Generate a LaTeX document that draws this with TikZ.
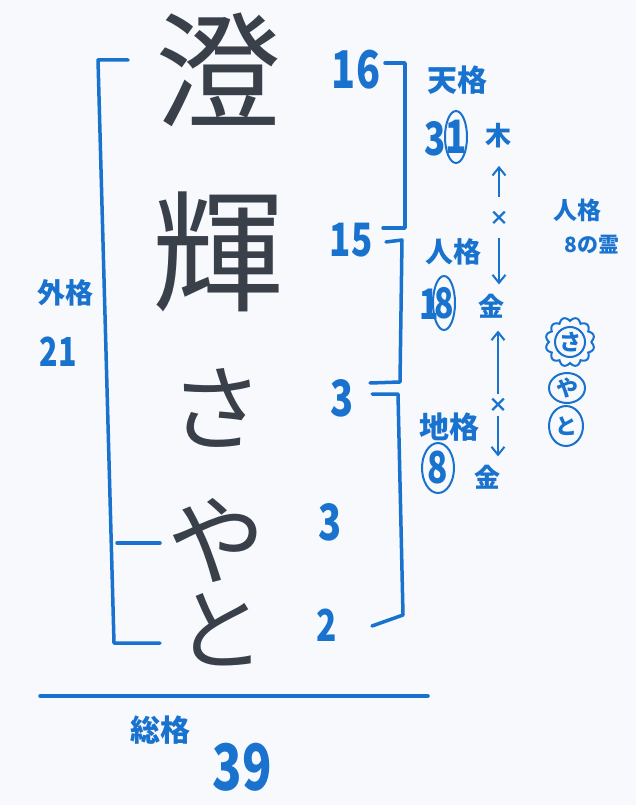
\documentclass[tikz,border=0pt]{standalone}
\usepackage{fontspec}
\usetikzlibrary{arrows.meta}
\newfontfamily\jp{Noto Sans CJK JP}
\definecolor{pen}{RGB}{24,114,206}
\definecolor{ink}{RGB}{58,64,74}
\definecolor{paper}{RGB}{247,249,252}
\newcommand\slim[1]{\scalebox{0.76}[1]{#1}}
\tikzset{
  big/.style={text=ink,font=\jp\fontsize{#1}{#1}\selectfont},
  num/.style={text=pen,font=\jp\bfseries\fontsize{#1}{#1}\selectfont},
  rule/.style={pen,line width=3.5pt,line cap=round,line join=round},
  loop/.style={pen,line width=2pt},
  arr/.style={pen,line width=2pt,-{Straight Barb[length=8pt,width=13pt]}},
}

\begin{document}
\begin{tikzpicture}[x=1pt,y=-1pt]
  \fill[paper] (0,0) rectangle (636,805);
  \useasboundingbox (0,0) rectangle (636,805);
  % name
  \node[big=126] (sumi) at (218,70) {澄};
  \node[big=132] (ki) at (218,252) {輝};
  \node[big=94] (sa) at (216,408) {さ};
  \node[big=98] (ya) at (216,540) {や};
  \node[big=90] (to) at (220,630) {と};
  % strokes
  \node[num=52] (n16) at (356,70) {\slim{16}};
  \node[num=46] (n15) at (351,240) {\slim{15}};
  \node[num=50] (n3a) at (342,398) {\slim{3}};
  \node[num=50] (n3b) at (330,522) {\slim{3}};
  \node[num=44] (n2) at (327,625) {\slim{2}};
  % brackets
  \draw[rule] (128,60) -- (98,60) -- (114,643) -- (160,643);
  \draw[rule] (117,543) -- (160,543);
  \draw[rule] (385,63) -- (405,63) -- (405,228) -- (383,228);
  \draw[rule] (386,242) -- (402,240) -- (400,382) -- (370,383);
  \draw[rule] (372,394) -- (398,394) -- (403,615) -- (372,626);
  \draw[rule] (40,696) -- (428,696);
  % kaku
  \node[num=30] (tenkaku) at (457,80) {天格};
  \node[num=46] (tenval) at (435,139) {\slim{3}};
  \node[num=46] (tenone) at (456,137) {\slim{1}};
  \draw[loop] (tenone) ellipse[x radius=11pt,y radius=26pt];
  \node[num=28] (jinkaku) at (453,252) {人格};
  \node[num=42] (jinone) at (429,304) {\slim{1}};
  \node[num=42] (jinval) at (444,303) {\slim{8}};
  \draw[loop] (jinval) ellipse[x radius=11pt,y radius=27pt];
  \node[num=30] (chikaku) at (449,427) {地格};
  \node[num=44] (chival) at (438,468) {\slim{8}};
  \draw[loop] (chival) ellipse[x radius=16pt,y radius=25pt];
  \node[num=28] (gaikaku) at (65,293) {外格};
  \node[num=40] (gaival) at (58,352) {\slim{21}};
  \node[num=30] (soukaku) at (160,730) {総格};
  \node[num=64] (souval) at (242,767) {\slim{39}};
  % gogyou
  \node[num=26] (moku) at (498,136) {木};
  \node[num=20] (batsu1) at (499,218) {×};
  \node[num=26] (kin1) at (491,306) {金};
  \node[num=20] (batsu2) at (498,405) {×};
  \node[num=26] (kin2) at (487,477) {金};
  \draw[arr,shorten <=10pt,shorten >=14pt] (batsu1) -- (batsu1 |- moku.south);
  \draw[arr,shorten <=9pt,shorten >=6pt] (batsu1) -- (batsu1 |- kin1.north);
  \draw[arr,shorten <=0pt,shorten >=9pt] (batsu2) -- (batsu2 |- kin1.south);
  \draw[arr,shorten <=0pt,shorten >=5pt] (batsu2) -- (batsu2 |- kin2.north);
  % rei
  \node[num=24] (rei1) at (577,210) {人格};
  \node[num=21] (rei2) at (592,245) {8の霊};
  \node[num=22] (csa) at (570,342) {さ};
  \node[num=22] (cya) at (567,388) {や};
  \node[num=22] (cto) at (566,426) {と};
  \draw[loop] (csa) circle[radius=15pt];
  \draw[loop,shift={(csa)}] plot[domain=0:360,samples=145,smooth] (\x:{21+3.5*abs(sin(6*\x))});
  \draw[loop] (cya) ellipse[x radius=18pt,y radius=15pt];
  \draw[loop] (cto) ellipse[x radius=17pt,y radius=20pt];
\end{tikzpicture}
\end{document}
